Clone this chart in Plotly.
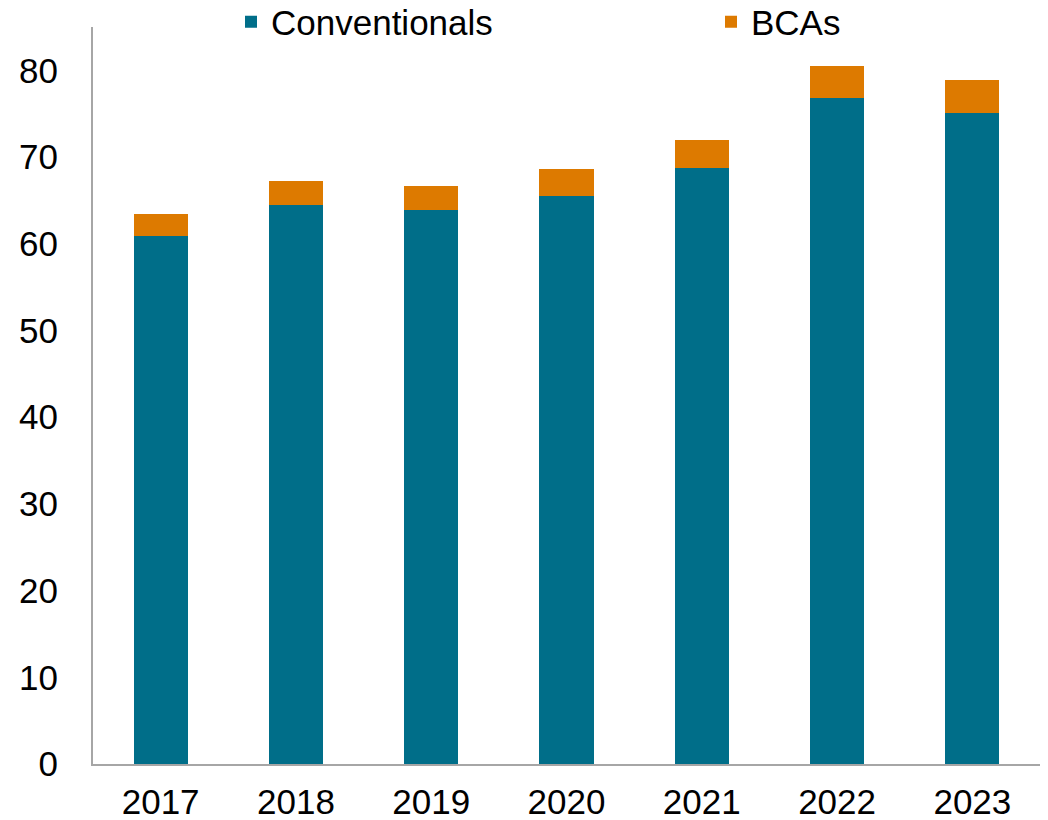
import plotly.graph_objects as go

years = ["2017", "2018", "2019", "2020", "2021", "2022", "2023"]
conventionals = [60.9, 64.5, 63.9, 65.5, 68.7, 76.8, 75.1]
bcas = [2.5, 2.7, 2.8, 3.1, 3.3, 3.7, 3.8]
y_ticks = [0, 10, 20, 30, 40, 50, 60, 70, 80]

FS = 35

fig = go.Figure()
fig.add_trace(go.Bar(x=years, y=conventionals, name="Conventionals", legend="legend",
                     marker=dict(color="#006E89", line=dict(width=0))))
fig.add_trace(go.Bar(x=years, y=bcas, name="BCAs", legend="legend2",
                     marker=dict(color="#DD7A00", line=dict(width=0))))

leg_common = dict(orientation="h", yref="container", y=1 - 22 / 820, yanchor="middle",
                  xref="container", xanchor="left", font=dict(size=FS),
                  bgcolor="rgba(0,0,0,0)", itemwidth=30)

fig.update_layout(
    barmode="stack",
    bargap=0.6,
    width=1048, height=820,
    margin=dict(l=93, r=8, t=27, b=56, autoexpand=False),
    plot_bgcolor="white", paper_bgcolor="white",
    font=dict(family="Liberation Sans, Arial, sans-serif", size=FS, color="#000000"),
    showlegend=True,
    legend=dict(x=231 / 1048, **leg_common),
    legend2=dict(x=711 / 1048, **leg_common),
)
fig.update_xaxes(showline=True, linecolor="#A6A6A6", linewidth=2, showgrid=False,
                 ticks="", tickfont=dict(size=FS), ticklabelstandoff=6)
fig.update_yaxes(range=[0, 85], tickvals=y_ticks, showline=True, linecolor="#A6A6A6",
                 linewidth=2, showgrid=False, zeroline=False, ticks="",
                 ticklabelstandoff=26, tickfont=dict(size=FS))

fig.write_html("out.html")
